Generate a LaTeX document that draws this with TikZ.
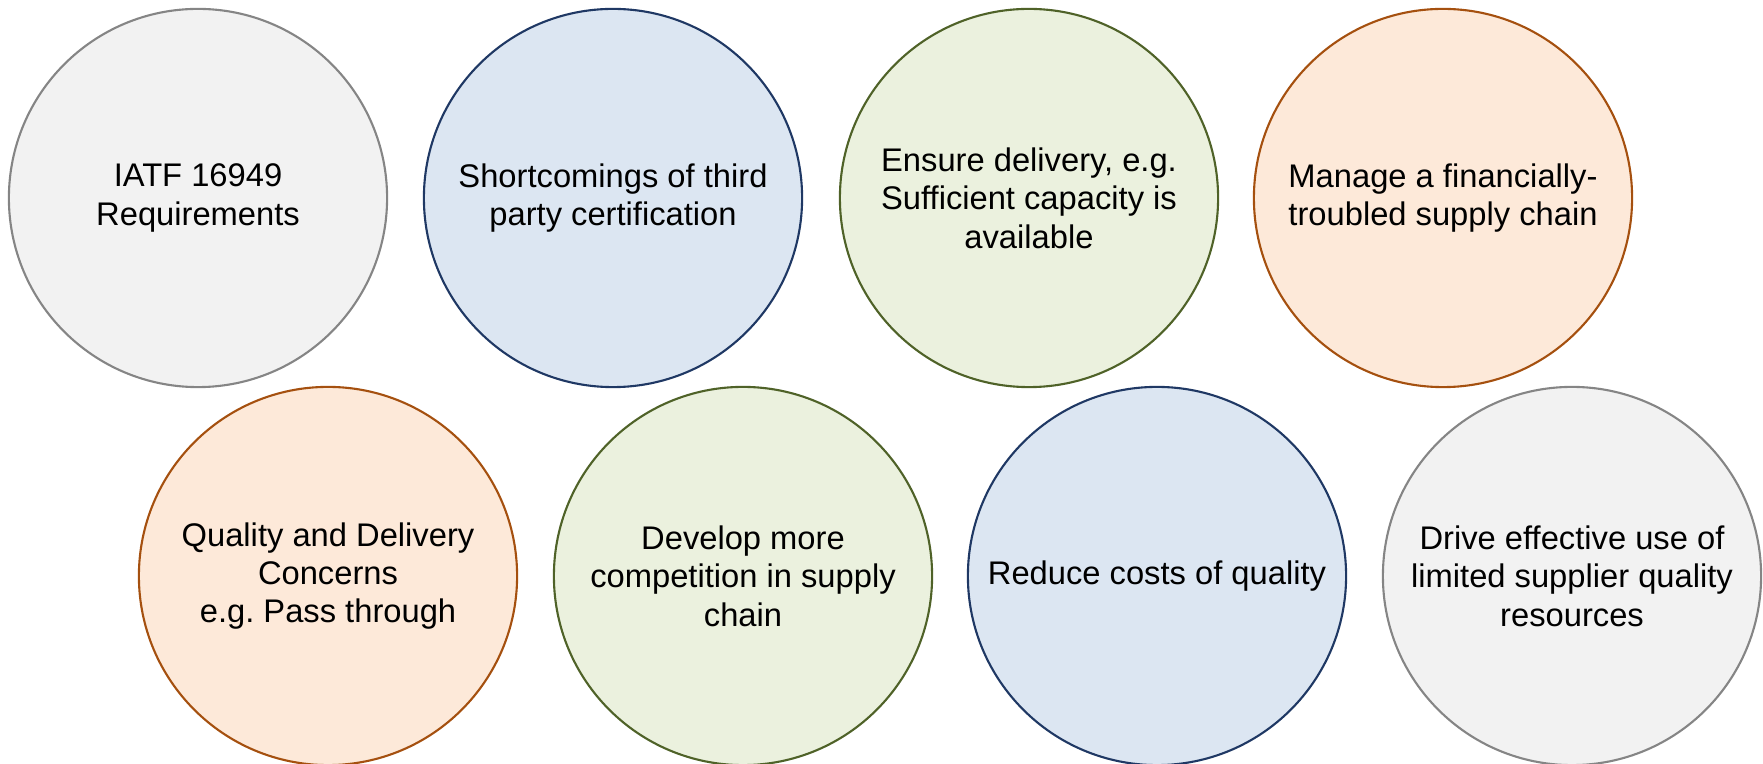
\documentclass[tikz,border=0pt]{standalone}
\usepackage{fontspec}
\setmainfont{Liberation Sans}
\frenchspacing
\definecolor{greyfill}{HTML}{F2F2F2}
\definecolor{greyline}{HTML}{858585}
\definecolor{bluefill}{HTML}{DCE6F2}
\definecolor{blueline}{HTML}{1F3864}
\definecolor{greenfill}{HTML}{EBF1DE}
\definecolor{greenline}{HTML}{4F6228}
\definecolor{orangefill}{HTML}{FDE9D9}
\definecolor{orangeline}{HTML}{A5500F}
\begin{document}
\begin{tikzpicture}[x=0.01cm, y=-0.01cm,
	bubble/.style={circle, minimum size=3.78cm, inner sep=0pt, line width=0.6pt, align=center, font=\fontsize{9.3}{10.9}\selectfont},
	greybubble/.style={bubble, fill=greyfill, draw=greyline},
	bluebubble/.style={bubble, fill=bluefill, draw=blueline},
	greenbubble/.style={bubble, fill=greenfill, draw=greenline},
	orangebubble/.style={bubble, fill=orangefill, draw=orangeline}]
	\useasboundingbox (0, 0) rectangle (1763, 764);
	
	\coordinate (T1) at (198, 198);
	\coordinate (T2) at (613, 198);
	\coordinate (T3) at (1029, 198);
	\coordinate (T4) at (1443, 198);
	\coordinate (B1) at (328, 576);
	\coordinate (B2) at (743, 576);
	\coordinate (B3) at (1157, 576);
	\coordinate (B4) at (1572, 576);
	
	\node[greybubble] (iatf) at (T1) {IATF 16949\\Requirements};
	\node[bluebubble] (certification) at (T2) {Shortcomings of third\\party certification};
	\node[greenbubble] (delivery) at (T3) {Ensure delivery, e.g.\\Sufficient capacity is\\available};
	\node[orangebubble] (financial) at (T4) {Manage a financially-\\troubled supply chain};
	\node[orangebubble] (concerns) at (B1) {Quality and Delivery\\Concerns\\e.g. Pass through};
	\node[greenbubble] (competition) at (B2) {Develop more\\competition in supply\\chain};
	\node[bluebubble] (costs) at (B3) {Reduce costs of quality};
	\node[greybubble] (resources) at (B4) {Drive effective use of\\limited supplier quality\\resources};
\end{tikzpicture}
\end{document}
